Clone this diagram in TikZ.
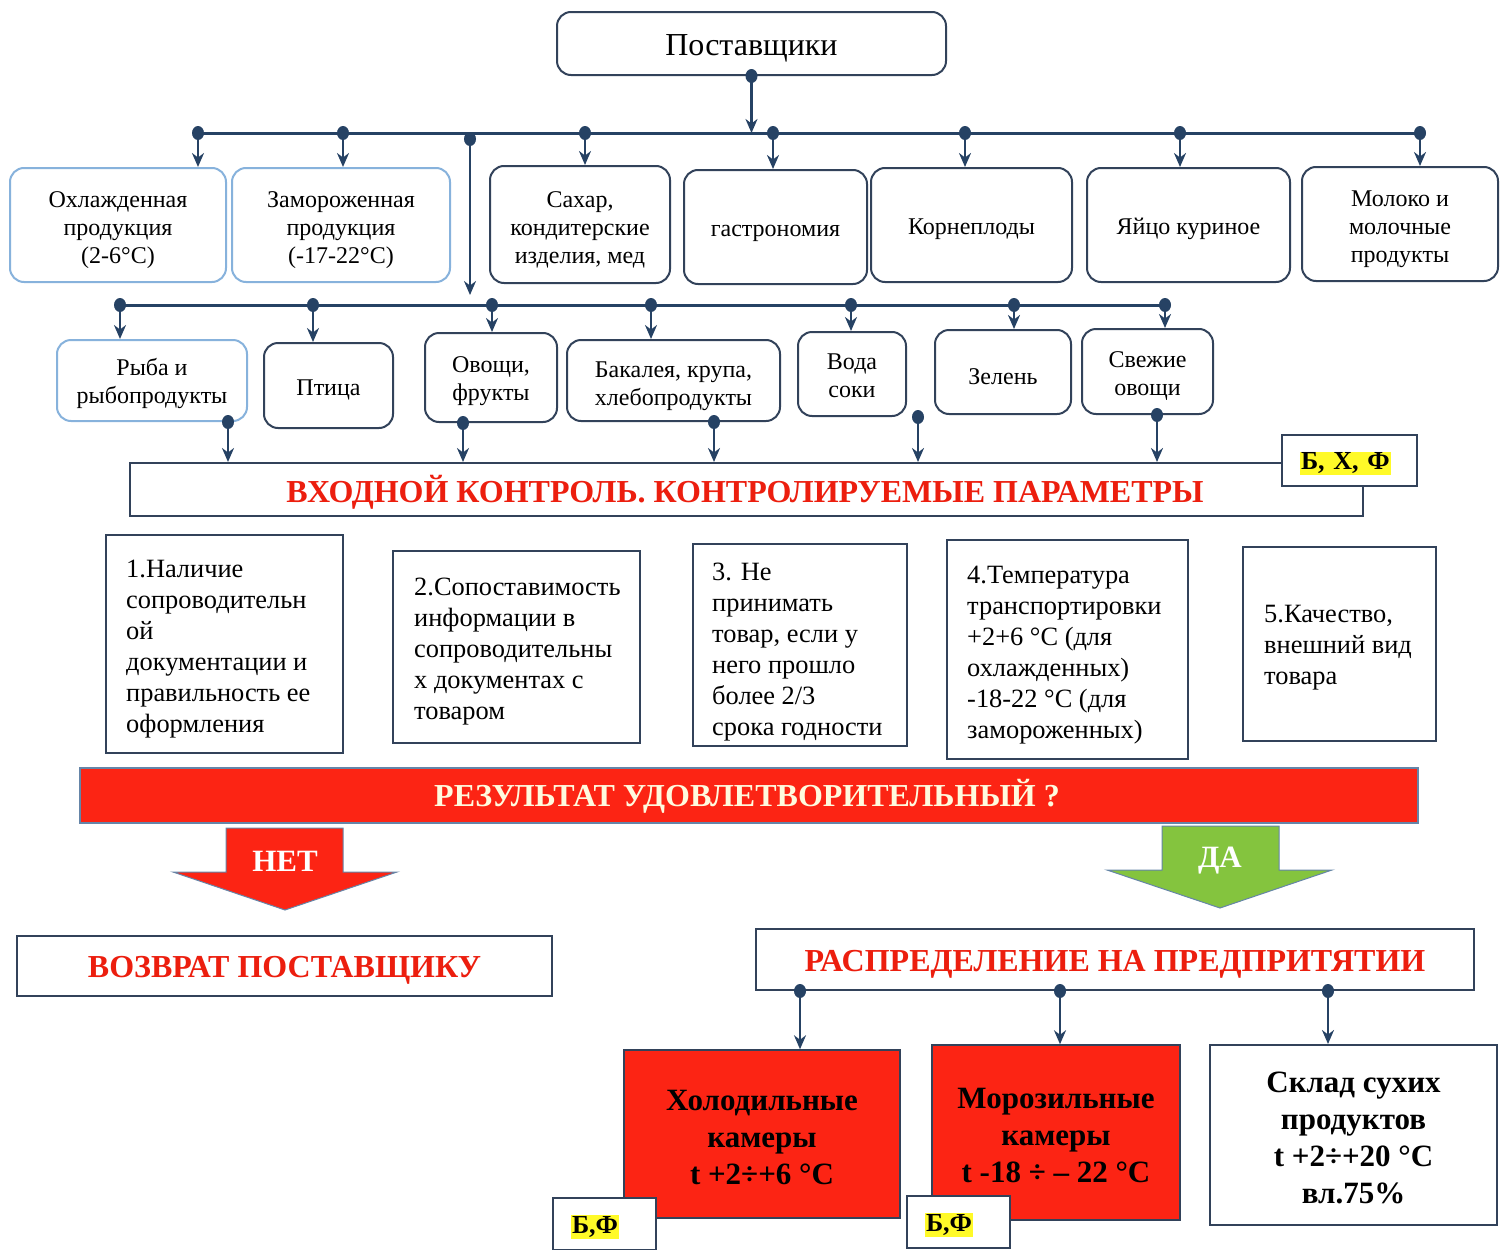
\documentclass[tikz,border=0pt]{standalone}
\usepackage{fontspec}
\setmainfont{Liberation Serif}
\usetikzlibrary{arrows.meta, positioning, calc}
\definecolor{boxline}{RGB}{50,66,90}
\definecolor{lightline}{RGB}{135,178,220}
\definecolor{connblue}{RGB}{38,66,100}
\definecolor{redbar}{RGB}{252,36,20}
\definecolor{redtext}{RGB}{236,30,14}
\definecolor{creamtext}{RGB}{255,250,222}
\definecolor{greenarrow}{RGB}{132,196,62}
\definecolor{hlyellow}{RGB}{255,250,40}
\newcommand{\hlmark}[1]{{\setlength{\fboxsep}{1pt}\colorbox{hlyellow}{#1}}}

\tikzset{
  toppad/.style={execute at begin node={\rule{0pt}{#1}}},
  supbox/.style={draw=boxline, line width=2pt, rounded corners=14pt, fill=white,
    align=center, inner sep=0pt, font=\fontsize{24}{28}\selectfont, toppad=25pt},
  supboxlight/.style={supbox, draw=lightline},
  critbox/.style={draw=boxline, line width=2pt, inner sep=0pt},
  crittext/.style={align=left, inner sep=0pt, anchor=west, font=\fontsize{26.4}{31}\selectfont},
  plainbox/.style={draw=boxline, line width=2pt, fill=white, inner sep=0pt},
  redtitle/.style={font=\fontsize{32}{36}\selectfont\bfseries, text=redtext},
  storebox/.style={draw=boxline, line width=1.5pt, inner sep=0pt, align=center,
    font=\fontsize{31}{37}\selectfont\bfseries, toppad=101pt},
  tagbox/.style={draw=boxline, line width=1.5pt, fill=white, inner ysep=0pt, inner xsep=18pt,
    align=left, font=\fontsize{26}{30}\selectfont\bfseries, toppad=24pt},
  busline/.style={draw=connblue, line width=3pt},
  conn/.style={draw=connblue, line width=2.5pt, -{Stealth[length=14pt, width=12pt]}},
  busdot/.style={fill=connblue}
}

\begin{document}
\begin{tikzpicture}[x=1pt, y=-1pt]
\useasboundingbox (0,0) rectangle (1500,1250);

% Поставщики
\node[supbox, minimum width=389pt, minimum height=63pt,
  font=\fontsize{32}{38}\selectfont, toppad=31pt] (sup) at (751.5,43.5) {Поставщики};

% первый ряд
\node[supboxlight, minimum width=216pt, minimum height=114pt, toppad=83pt] (ohl) at (118,225) {Охлажденная\\продукция\\(2-6°C)};
\node[supboxlight, minimum width=218pt, minimum height=114pt, toppad=83pt] (zam) at (341,225) {Замороженная\\продукция\\(-17-22°C)};
\node[supbox, minimum width=180pt, minimum height=117pt, toppad=83pt] (sah) at (580,224.5) {Сахар,\\кондитерские\\изделия, мед};
\node[supbox, minimum width=183pt, minimum height=114pt] (gas) at (775.5,227) {гастрономия};
\node[supbox, minimum width=201pt, minimum height=114pt] (kor) at (971.5,225) {Корнеплоды};
\node[supbox, minimum width=203pt, minimum height=114pt] (yai) at (1188.5,225) {Яйцо куриное};
\node[supbox, minimum width=196pt, minimum height=114pt, toppad=83pt] (mol) at (1400,224) {Молоко и\\молочные\\продукты};

% второй ряд
\node[supboxlight, minimum width=190pt, minimum height=81pt, toppad=52pt] (ryba) at (152,380.5) {Рыба и\\рыбопродукты};
\node[supbox, minimum width=129pt, minimum height=85pt] (ptica) at (328.5,385.5) {Птица};
\node[supbox, minimum width=132pt, minimum height=89pt, toppad=52pt] (ovo) at (491,377.5) {Овощи,\\фрукты};
\node[supbox, minimum width=213pt, minimum height=81pt, toppad=56pt] (bak) at (673.5,380.5) {Бакалея, крупа,\\хлебопродукты};
\node[supbox, minimum width=108pt, minimum height=84pt, toppad=48pt] (voda) at (852,374) {Вода\\соки};
\node[supbox, minimum width=136pt, minimum height=84pt, toppad=20pt] (zel) at (1003,372) {Зелень};
\node[supbox, minimum width=131pt, minimum height=85pt, toppad=52pt] (sve) at (1147.5,371.5) {Свежие\\овощи};

% шины
\coordinate (busA) at (198,133);
\coordinate (busB) at (1420,133);
\draw[busline] (busA) -- (busB);
\fill[busdot] (sup.south) ellipse [x radius=6pt, y radius=7pt];
\draw[conn] (sup.south) -- (sup.south |- busA);
\foreach \x/\n [count=\i] in {198/ohl, 343/zam, 585/sah, 773/gas, 965/kor, 1180/yai, 1420/mol} {
  \coordinate (ta\i) at (\x,133);
  \fill[busdot] (ta\i) ellipse [x radius=6pt, y radius=7pt];
  \draw[conn] (ta\i) -- (ta\i |- \n.north);
}
\coordinate (busC) at (120,305);
\coordinate (busD) at (1165,305);
\coordinate (feed) at (470,139);
\draw[busline] (busC) -- (busD);
\fill[busdot] (feed) ellipse [x radius=6pt, y radius=7pt];
\draw[conn] (feed) -- ([yshift=10pt]feed |- busC);
\foreach \x/\n [count=\i] in {120/ryba, 313/ptica, 492/ovo, 651/bak, 851/voda, 1014/zel, 1165/sve} {
  \coordinate (tb\i) at (\x,305);
  \fill[busdot] (tb\i) ellipse [x radius=6pt, y radius=7pt];
  \draw[conn] (tb\i) -- (tb\i |- \n.north);
}

% входной контроль
\node[plainbox, minimum width=1233pt, minimum height=53pt] (ctrl) at (746.5,489.5) {};
\node[redtitle] (ctrltxt) at (745,492) {ВХОДНОЙ КОНТРОЛЬ. КОНТРОЛИРУЕМЫЕ ПАРАМЕТРЫ};
\node[tagbox, text width=99pt, minimum height=51pt] (tagbxf) at (1349.5,460.5) {\hlmark{Б, Х, Ф}};
\foreach \x/\n [count=\i] in {228/ryba, 463/ovo, 714/bak, 918/voda, 1157/sve} {
  \coordinate (tc\i) at (\x,0);
  \fill[busdot] (tc\i |- \n.south) ellipse [x radius=6pt, y radius=7pt];
  \draw[conn] (tc\i |- \n.south) -- (tc\i |- ctrl.north);
}

% параметры
\node[critbox, minimum width=237pt, minimum height=218pt] (c1) at (224.5,644) {};
\node[critbox, minimum width=247pt, minimum height=192pt] (c2) at (516.5,647) {};
\node[critbox, minimum width=214pt, minimum height=202pt] (c3) at (800,645) {};
\node[critbox, minimum width=241pt, minimum height=219pt] (c4) at (1067.5,649.5) {};
\node[critbox, minimum width=193pt, minimum height=194pt] (c5) at (1339.5,644) {};
\node[crittext] (c1t) at ([xshift=21pt, yshift=-5pt]c1.west) {1.Наличие\\сопроводительн\\ой\\документации и\\правильность ее\\оформления};
\node[crittext] (c2t) at ([xshift=22pt, yshift=-5pt]c2.west) {2.Сопоставимость\\информации в\\сопроводительны\\х документах с\\товаром};
\node[crittext] (c3t) at ([xshift=20pt, yshift=-7pt]c3.west) {3. Не\\принимать\\товар, если у\\него прошло\\более 2/3\\срока годности};
\node[crittext] (c4t) at ([xshift=21pt, yshift=-6pt]c4.west) {4.Температура\\транспортировки\\+2+6 °C (для\\охлажденных)\\-18-22 °C (для\\замороженных)};
\node[crittext] (c5t) at ([xshift=22pt, yshift=-4pt]c5.west) {5.Качество,\\внешний вид\\товара};

% результат
\node[draw=lightline!60!boxline, line width=1.5pt, fill=redbar, minimum width=1338pt,
  minimum height=55pt, inner sep=0pt] (res) at (749,795.5) {};
\node[font=\fontsize{32}{36}\selectfont\bfseries, text=creamtext] (restxt) at (747,796)
  {РЕЗУЛЬТАТ УДОВЛЕТВОРИТЕЛЬНЫЙ ?};

% НЕТ / ДА
\draw[draw=lightline!60!boxline, line width=1pt, fill=redbar]
  (226,828) -- (343,828) -- (343,872) -- (397,872) -- (285,910) -- (173,872) -- (226,872) -- cycle;
\node[font=\fontsize{31}{34}\selectfont\bfseries, text=white] (net) at (285,861) {НЕТ};
\draw[draw=lightline!60!boxline, line width=1pt, fill=greenarrow]
  (1162,826) -- (1279,826) -- (1279,870) -- (1332,870) -- (1220,908) -- (1107,870) -- (1162,870) -- cycle;
\node[font=\fontsize{31}{34}\selectfont\bfseries, text=white] (da) at (1220,861) {ДА};

% возврат и распределение
\node[plainbox, minimum width=535pt, minimum height=60pt] (ret) at (284.5,966) {};
\node[redtitle] (rettxt) at (284.5,970) {ВОЗВРАТ ПОСТАВЩИКУ};
\node[plainbox, minimum width=718pt, minimum height=61pt] (dist) at (1115,959.5) {};
\node[redtitle] (disttxt) at (1115,964) {РАСПРЕДЕЛЕНИЕ НА ПРЕДПРИТЯТИИ};

% места хранения
\node[storebox, fill=redbar, minimum width=276pt, minimum height=168pt] (hol) at (762,1134)
  {Холодильные\\камеры\\t +2÷+6 °C};
\node[storebox, fill=redbar, minimum width=248pt, minimum height=175pt, toppad=100pt] (mor) at (1056,1132.5)
  {Морозильные\\камеры\\t -18 ÷ – 22 °C};
\node[storebox, fill=white, line width=2pt, minimum width=287pt, minimum height=180pt, toppad=138pt] (skl) at (1353.5,1135)
  {Склад сухих\\продуктов\\t +2÷+20 °C\\вл.75\%};
\foreach \x/\n [count=\i] in {800/hol, 1060/mor, 1328/skl} {
  \coordinate (td\i) at (\x,0);
  \fill[busdot] (td\i |- dist.south) ellipse [x radius=6pt, y radius=7pt];
  \draw[conn] (td\i |- dist.south) -- (td\i |- \n.north);
}
\node[tagbox, text width=67pt, minimum height=52pt] (tagbf1) at (604.5,1224) {\hlmark{Б,Ф}};
\node[tagbox, text width=67pt, minimum height=52pt] (tagbf2) at (958.5,1222) {\hlmark{Б,Ф}};
\end{tikzpicture}
\end{document}
